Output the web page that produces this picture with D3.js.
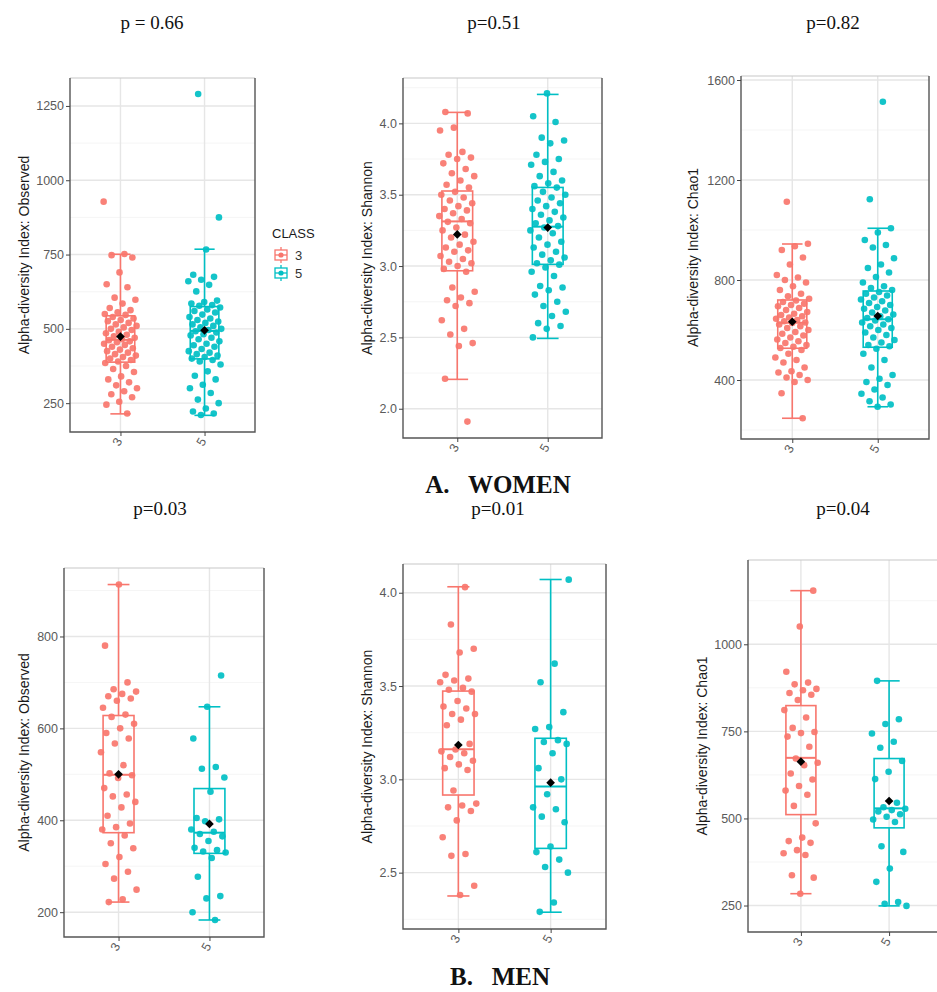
<!DOCTYPE html>
<html>
<head>
<meta charset="utf-8">
<script src="https://cdn.jsdelivr.net/npm/d3@7"></script>
<style>
  body { margin: 0; background: #fff; }
  svg text { font-family: "Liberation Sans", Arial, sans-serif; }
  .ptitle { font-family: "Liberation Serif", serif; font-size: 19px; fill: #111; }
  .group { font-family: "Liberation Serif", serif; font-size: 25px; font-weight: bold; fill: #111; white-space: pre; }
</style>
</head>
<body>
<div id="chart"></div>
<script>
// Alpha diversity by CLASS (3 vs 5), women (top row) and men (bottom row)

var classes = ["3", "5"];
var classColors = ["#F8766D", "#00BFC4"];

var pTitles = ["p = 0.66", "p=0.51", "p=0.82", "p=0.03", "p=0.01", "p=0.04"];
var indexNames = ["Observed", "Shannon", "Chao1", "Observed", "Shannon", "Chao1"];

var yTicks = [
    [250, 500, 750, 1000, 1250],
    [2.0, 2.5, 3.0, 3.5, 4.0],
    [400, 800, 1200, 1600],
    [200, 400, 600, 800],
    [2.5, 3.0, 3.5, 4.0],
    [250, 500, 750, 1000]
];

// points
var womenObserved3 = [928, 752, 748, 740, 690, 650, 640, 605, 598, 585, 570, 563, 556, 550, 547,
    540, 535, 530, 526, 520, 515, 510, 505, 500, 496, 490, 485, 480, 475, 470, 465, 462, 458, 455,
    450, 446, 440, 435, 430, 425, 420, 415, 410, 405, 400, 395, 390,
    385, 375, 365, 355, 340, 330, 320, 310, 300, 290, 280, 270, 255, 245, 215];
var womenObserved5 = [1290, 875, 767, 682, 675, 665, 660, 648, 626, 595, 590, 585, 580, 578,
    572, 565, 560, 555, 548, 540, 535, 530, 525, 520, 515, 510, 505, 500, 496, 492, 488, 482, 478,
    470, 465, 458, 450, 445, 440, 432, 425, 420, 415, 410, 405, 400,
    395, 390, 380, 357, 342, 330, 312, 300, 284, 262, 250, 232, 222, 215, 210];
var womenShannon3 = [4.08, 4.07, 3.97, 3.95, 3.80, 3.78, 3.76, 3.75, 3.72, 3.68, 3.65, 3.63, 3.60, 3.57, 3.55,
    3.52, 3.50, 3.48, 3.46, 3.44, 3.42, 3.40, 3.39, 3.37, 3.35, 3.33, 3.31, 3.30, 3.27, 3.25, 3.22,
    3.20, 3.17, 3.15, 3.13, 3.11, 3.10, 3.07, 3.05, 3.03, 3.02, 3.00, 2.98,
    2.96, 2.85, 2.82, 2.78, 2.76, 2.74, 2.72, 2.62, 2.56, 2.52, 2.46, 2.44, 2.21, 1.91];
var womenShannon5 = [4.21, 4.05, 4.01, 3.90, 3.88, 3.86, 3.78, 3.75, 3.73, 3.71, 3.66, 3.63, 3.60, 3.58, 3.56,
    3.55, 3.52, 3.50, 3.48, 3.46, 3.44, 3.42, 3.40, 3.38, 3.36, 3.34, 3.32, 3.30, 3.28, 3.27, 3.25,
    3.23, 3.20, 3.17, 3.15, 3.13, 3.10, 3.08, 3.06, 3.04, 3.02, 3.01,
    2.99, 2.96, 2.93, 2.86, 2.85, 2.83, 2.80, 2.75, 2.72, 2.68, 2.65, 2.60, 2.58, 2.56, 2.50];
var womenChao3 = [1113, 945, 935, 920, 890, 862, 820, 810, 800, 790, 775, 760, 745, 735, 725,
    718, 712, 705, 700, 695, 688, 680, 672, 665, 660, 655, 650, 645, 640, 635, 630, 628, 622, 615,
    608, 600, 592, 585, 578, 570, 562, 555, 548, 540, 533, 528,
    520, 505, 490, 480, 470, 450, 435, 430, 420, 410, 400, 392, 347, 247];
var womenChao5 = [1513, 1123, 1007, 990, 960, 940, 930, 887, 862, 848, 830, 812, 790, 775, 768, 760,
    752, 745, 738, 730, 722, 715, 708, 700, 692, 685, 678, 670, 662, 655, 648, 643, 638, 630, 622,
    615, 608, 600, 590, 580, 570, 560, 550, 540, 535,
    525, 505, 480, 450, 420, 405, 392, 380, 362, 345, 330, 315, 302, 293];
var menObserved3 = [913, 780, 700, 685, 680, 675, 670, 665, 660, 645, 630, 625, 610, 600, 590, 578, 567,
    548, 520, 502, 498, 492, 470, 456, 452, 440, 428, 410, 393, 385, 380, 367, 350, 339, 320, 305,
    288, 273, 249, 228, 222];
var menObserved5 = [715, 647, 578, 516, 512, 493, 462, 405, 402, 398, 380, 375, 370, 365, 355, 340,
    335, 332, 330, 318, 277, 235, 230, 200, 183];
var menShannon3 = [4.03, 3.83, 3.70, 3.68, 3.56, 3.54, 3.53, 3.52, 3.49, 3.48, 3.47, 3.42, 3.39, 3.38,
    3.35, 3.35, 3.32, 3.29, 3.19, 3.16, 3.15, 3.14, 3.12, 3.10, 3.08, 3.06, 3.05, 2.94, 2.87, 2.86,
    2.85, 2.83, 2.78, 2.69, 2.60, 2.59, 2.43, 2.38];
var menShannon5 = [4.07, 3.62, 3.52, 3.36, 3.28, 3.27, 3.21, 3.20, 3.19, 3.14, 3.06, 3.00, 2.92, 2.85,
    2.84, 2.80, 2.77, 2.64, 2.61, 2.57, 2.53, 2.50, 2.34, 2.29];
var menChao3 = [1154, 1051, 921, 890, 885, 872, 868, 860, 855, 840, 811, 790, 760, 748, 745, 735, 706,
    672, 660, 653, 629, 612, 593, 580, 568, 536, 486, 445, 435, 430, 409, 400, 395, 337, 330, 284];
var menChao5 = [895, 785, 771, 744, 720, 703, 665, 634, 613, 545, 532, 528, 524, 520, 512, 505, 497,
    490, 420, 404, 356, 318, 260, 255, 249];

// box summaries: [lower whisker, q1, median, q3, upper whisker, mean]
var womenObservedBox = [[214, 388, 463, 544, 751, 474], [209, 399, 493, 575, 768, 495]];
var womenShannonBox = [[2.206, 2.967, 3.313, 3.526, 4.077, 3.222], [2.493, 3.012, 3.276, 3.551, 4.203, 3.27]];
var womenChaoBox = [[247, 527, 629, 720, 944, 633], [293, 531, 643, 756, 1007, 656]];
var menObservedBox = [[222, 373, 499, 628, 913, 500], [183, 328, 373, 469, 647, 392]];
var menShannonBox = [[2.375, 2.916, 3.161, 3.473, 4.032, 3.184], [2.288, 2.63, 2.961, 3.22, 4.071, 2.982]];
var menChaoBox = [[284, 511, 674, 824, 1154, 663], [249, 473, 529, 672, 895, 550]];

var points = [
    [womenObserved3, womenObserved5], [womenShannon3, womenShannon5], [womenChao3, womenChao5],
    [menObserved3, menObserved5], [menShannon3, menShannon5], [menChao3, menChao5]
];
var boxes = [womenObservedBox, womenShannonBox, womenChaoBox, menObservedBox, menShannonBox, menChaoBox];

// panel layout
var layout = [
    {l: 70, r: 255, t: 78, b: 432, lo: 153, hi: 1344, labX: 24, tx: 152, ty: 29},
    {l: 403, r: 602, t: 78, b: 438, lo: 1.795, hi: 4.318, labX: 367, tx: 494, ty: 29},
    {l: 741, r: 929, t: 76, b: 439, lo: 164, hi: 1616, labX: 693, tx: 833, ty: 29},
    {l: 64, r: 264, t: 568, b: 937, lo: 146, hi: 949, labX: 24, tx: 160, ty: 515},
    {l: 403, r: 606, t: 564, b: 929, lo: 2.198, hi: 4.154, labX: 367, tx: 498, ty: 515},
    {l: 748, r: 942, t: 560, b: 932, lo: 174, hi: 1242, labX: 702, tx: 843, ty: 515}
];

var svg = d3.select("#chart").append("svg")
    .attr("width", 937)
    .attr("height", 992);

layout.forEach(function (p, k) {
    drawPanel(p, k);
});

function drawPanel(p, k) {
    var g = svg.append("g");

    var x = d3.scalePoint().domain(classes).range([p.l, p.r]).padding(0.6);
    var unit = x.step();
    var y = d3.scaleLinear().domain([p.lo, p.hi]).range([p.b, p.t]);
    var isShannon = indexNames[k] === "Shannon";
    var step = yTicks[k][1] - yTicks[k][0];

    // minor grid at half steps
    var minor = [];
    for (var v = yTicks[k][0] - step / 2; v <= p.hi; v += step) {
        if (v >= p.lo) minor.push(v);
    }
    g.selectAll(".minor").data(minor).enter().append("line")
        .attr("x1", p.l).attr("x2", p.r)
        .attr("y1", function (d) { return y(d); })
        .attr("y2", function (d) { return y(d); })
        .attr("stroke", "#f3f3f3").attr("stroke-width", 0.8);

    g.selectAll(".major").data(yTicks[k]).enter().append("line")
        .attr("x1", p.l).attr("x2", p.r)
        .attr("y1", function (d) { return y(d); })
        .attr("y2", function (d) { return y(d); })
        .attr("stroke", "#e6e6e6").attr("stroke-width", 1.4);

    g.selectAll(".vgrid").data(classes).enter().append("line")
        .attr("x1", function (d) { return x(d); })
        .attr("x2", function (d) { return x(d); })
        .attr("y1", p.t).attr("y2", p.b)
        .attr("stroke", "#e6e6e6").attr("stroke-width", 1.4);

    // boxes
    var bw = unit * 0.34, cw = unit * 0.24;
    classes.forEach(function (c, i) {
        var s = boxes[k][i], cx = x(c), col = classColors[i];
        var bg = g.append("g").attr("stroke", col).attr("fill", "none").attr("stroke-width", 1.6);
        bg.append("line").attr("x1", cx).attr("x2", cx).attr("y1", y(s[0])).attr("y2", y(s[1]));
        bg.append("line").attr("x1", cx).attr("x2", cx).attr("y1", y(s[3])).attr("y2", y(s[4]));
        bg.append("line").attr("x1", cx - cw / 2).attr("x2", cx + cw / 2).attr("y1", y(s[0])).attr("y2", y(s[0]));
        bg.append("line").attr("x1", cx - cw / 2).attr("x2", cx + cw / 2).attr("y1", y(s[4])).attr("y2", y(s[4]));
        bg.append("rect").attr("x", cx - bw / 2).attr("width", bw)
            .attr("y", y(s[3])).attr("height", y(s[1]) - y(s[3]));
        bg.append("line").attr("x1", cx - bw / 2).attr("x2", cx + bw / 2)
            .attr("y1", y(s[2])).attr("y2", y(s[2])).attr("stroke-width", 2);

        // jittered points (deterministic spread)
        g.append("g").selectAll("circle").data(points[k][i]).enter().append("circle")
            .attr("cx", function (d, j) {
                return cx + (((j * 0.618034 + i * 0.31 + k * 0.17) % 1) - 0.5) * 0.4 * unit;
            })
            .attr("cy", function (d) { return y(d); })
            .attr("r", 3.3)
            .attr("fill", col)
            .attr("fill-opacity", 0.92);

        // mean
        g.append("path")
            .attr("d", d3.symbol().type(d3.symbolDiamond2).size(48))
            .attr("transform", "translate(" + cx + "," + y(s[5]) + ")")
            .attr("fill", "#000");
    });

    // frame
    g.append("line").attr("x1", p.l).attr("x2", p.r).attr("y1", p.t).attr("y2", p.t)
        .attr("stroke", "#c8c8c8").attr("stroke-width", 1.2);
    g.append("path")
        .attr("d", "M" + p.l + "," + p.t + "V" + p.b + "H" + p.r + "V" + p.t)
        .attr("fill", "none").attr("stroke", "#555").attr("stroke-width", 1.4);

    // axes
    var yAxis = g.append("g")
        .attr("transform", "translate(" + p.l + ",0)")
        .call(d3.axisLeft(y).tickValues(yTicks[k]).tickSize(4).tickPadding(2)
            .tickFormat(isShannon ? d3.format(".1f") : d3.format("d")));
    yAxis.select(".domain").remove();
    yAxis.selectAll("line").attr("stroke", "#444");
    yAxis.selectAll("text").attr("fill", "#5a5a5a").style("font-size", "12.5px");

    var xAxis = g.append("g")
        .attr("transform", "translate(0," + p.b + ")")
        .call(d3.axisBottom(x).tickSize(4).tickPadding(2));
    xAxis.select(".domain").remove();
    xAxis.selectAll("line").attr("stroke", "#444");
    xAxis.selectAll("text")
        .attr("fill", "#5a5a5a").style("font-size", "12.5px")
        .attr("y", 0).attr("dy", 0)
        .attr("text-anchor", "middle")
        .attr("transform", "translate(0,12) rotate(-60)");

    g.append("text")
        .attr("transform", "translate(" + p.labX + "," + (p.t + p.b) / 2 + ") rotate(-90)")
        .attr("text-anchor", "middle")
        .attr("dy", "0.35em")
        .attr("fill", "#1a1a1a")
        .style("font-size", "14px")
        .text("Alpha-diversity Index: " + indexNames[k]);

    g.append("text")
        .attr("class", "ptitle")
        .attr("x", p.tx).attr("y", p.ty)
        .attr("text-anchor", "middle")
        .text(pTitles[k]);
}

// legend (first panel)
var leg = svg.append("g").attr("transform", "translate(272,0)");
leg.append("text").attr("x", 0).attr("y", 238).attr("fill", "#1a1a1a")
    .style("font-size", "13px").text("CLASS");
classes.forEach(function (c, i) {
    var cy = 255 + i * 18, col = classColors[i];
    var kg = leg.append("g").attr("stroke", col).attr("fill", "none").attr("stroke-width", 1.3);
    kg.append("rect").attr("x", 3).attr("y", cy - 5).attr("width", 12).attr("height", 10);
    kg.append("line").attr("x1", 3).attr("x2", 15).attr("y1", cy).attr("y2", cy);
    kg.append("line").attr("x1", 9).attr("x2", 9).attr("y1", cy - 8).attr("y2", cy - 5);
    kg.append("line").attr("x1", 9).attr("x2", 9).attr("y1", cy + 5).attr("y2", cy + 8);
    leg.append("circle").attr("cx", 9).attr("cy", cy).attr("r", 2.6).attr("fill", col);
    leg.append("text").attr("x", 23).attr("y", cy).attr("dy", "0.35em")
        .attr("fill", "#333").style("font-size", "13px").text(c);
});

// row captions
svg.append("text").attr("class", "group").attr("x", 498).attr("y", 493)
    .attr("text-anchor", "middle").text("A.   WOMEN");
svg.append("text").attr("class", "group").attr("x", 500).attr("y", 985)
    .attr("text-anchor", "middle").text("B.   MEN");
</script>
</body>
</html>
